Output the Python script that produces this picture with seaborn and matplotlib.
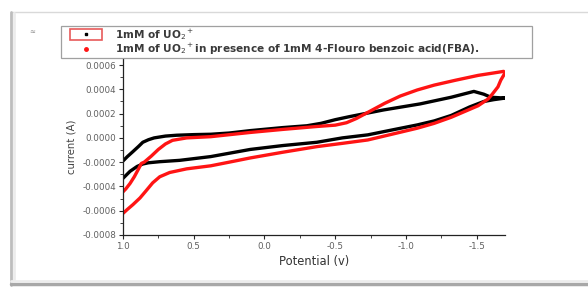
import matplotlib
matplotlib.use("Agg")
import matplotlib.pyplot as plt
import matplotlib.patches as mpatches
from matplotlib.lines import Line2D
from matplotlib.ticker import MultipleLocator
import seaborn as sns
import pandas as pd

# Cyclic voltammograms: potential (V) and current (x1e-4 A), forward sweep then reverse sweep
black_v = [1.0, 0.97, 0.93, 0.89, 0.86, 0.82, 0.78, 0.70, 0.62, 0.5, 0.38, 0.25, 0.1, -0.13,
           -0.3, -0.4, -0.5, -0.6, -0.84, -1.1, -1.32, -1.48, -1.55, -1.6, -1.7,
           -1.62, -1.55, -1.45, -1.32, -1.2, -1.08, -0.9, -0.73, -0.55, -0.37, -0.13, 0.1,
           0.38, 0.6, 0.74, 0.82, 0.86, 0.9, 0.95, 1.0]
black_i = [-1.9, -1.55, -1.13, -0.7, -0.36, -0.15, 0.0, 0.15, 0.22, 0.27, 0.30, 0.4, 0.6, 0.85,
           1.0, 1.2, 1.5, 1.75, 2.3, 2.8, 3.35, 3.83, 3.6, 3.35, 3.28,
           3.15, 3.0, 2.55, 1.85, 1.4, 1.07, 0.65, 0.25, 0.0, -0.36, -0.63, -0.95,
           -1.54, -1.85, -1.96, -2.05, -2.15, -2.35, -2.75, -3.33]

red_v = [1.0, 0.98, 0.95, 0.92, 0.89, 0.87, 0.85, 0.8, 0.75, 0.7, 0.65, 0.55, 0.38, 0.1, -0.13,
         -0.37, -0.5, -0.58, -0.65, -0.73, -0.85, -0.96, -1.08, -1.2, -1.35, -1.51, -1.62,
         -1.69, -1.7, -1.67, -1.65, -1.61, -1.58, -1.51, -1.42, -1.32, -1.2, -1.08, -0.9,
         -0.73, -0.55, -0.37, -0.13, 0.1, 0.25, 0.38, 0.55, 0.67, 0.74, 0.79, 0.84, 0.88,
         0.93, 0.97, 1.0]
red_i = [-4.44, -4.2, -3.75, -3.2, -2.55, -2.1, -2.0, -1.5, -0.95, -0.5, -0.2, 0.0, 0.1, 0.45,
         0.7, 0.94, 1.05, 1.25, 1.6, 2.1, 2.85, 3.45, 3.95, 4.35, 4.75, 5.15, 5.35,
         5.48, 5.35, 4.75, 4.2, 3.6, 3.2, 2.65, 2.2, 1.7, 1.2, 0.8, 0.3,
         -0.17, -0.45, -0.72, -1.18, -1.65, -2.0, -2.3, -2.55, -2.85, -3.2, -3.7, -4.4, -4.95,
         -5.5, -5.9, -6.22]

series_labels = ["1mM of UO$_2$$^+$",
                 "1mM of UO$_2$$^+$in presence of 1mM 4-Flouro benzoic acid(FBA)."]
series_colors = ["black", "#ff1414"]
x_ticks = [1.0, 0.5, 0.0, -0.5, -1.0, -1.5]
y_ticks = [-0.0008, -0.0006, -0.0004, -0.0002, 0.0, 0.0002, 0.0004, 0.0006]

df = pd.concat([
    pd.DataFrame({"v": black_v, "i": [c * 1e-4 for c in black_i], "s": series_labels[0]}),
    pd.DataFrame({"v": red_v, "i": [c * 1e-4 for c in red_i], "s": series_labels[1]}),
], ignore_index=True)

sns.set_style("white")
plt.rcParams["font.family"] = ["DejaVu Sans"]
plt.rcParams["axes.unicode_minus"] = False

W, H = 588, 287
fig = plt.figure(figsize=(W / 100, H / 100), dpi=100)

# card frame (top, left, bottom edges)
def fig_line(x0, y0, x1, y1, color, lw):
    fig.add_artist(Line2D([x0 / W, x1 / W], [1 - y0 / H, 1 - y1 / H],
                          transform=fig.transFigure, color=color, linewidth=lw))
fig_line(11, 12, W, 12, "#d9d9d9", 1.0)
fig_line(11, 12, 11, 285, "#bdbdbd", 2.0)
fig_line(14, 13, 14, 283, "#ececec", 2.0)
fig_line(11, 284, W, 284, "#a8a8a8", 2.5)
fig_line(11, 281, W, 281, "#ececec", 2.0)

ax = fig.add_axes([123 / W, 1 - 235 / H, (505 - 123) / W, (235 - 59) / H])

sns.lineplot(data=df, x="v", y="i", hue="s", sort=False, estimator=None,
             palette=dict(zip(series_labels, series_colors)),
             linewidth=2.4, ax=ax, legend=False)

ax.set_xlim(1.0, -1.7)
ax.set_ylim(-0.0008, 0.00065)
ax.set_xticks(x_ticks)
ax.set_xticklabels([f"{t:.1f}" for t in x_ticks])
ax.set_yticks(y_ticks)
ax.set_yticklabels([f"{t:.4f}" for t in y_ticks])
ax.xaxis.set_minor_locator(MultipleLocator(0.25))
ax.yaxis.set_minor_locator(MultipleLocator(0.0001))
ax.tick_params(axis="both", which="major", direction="out", length=3, width=0.8,
               labelsize=6.3, labelcolor="#606060", left=True, bottom=True, pad=2)
ax.tick_params(axis="both", which="minor", direction="out", length=2, width=0.6,
               left=True, bottom=True)
for s in ["top", "right"]:
    ax.spines[s].set_visible(False)
for s in ["left", "bottom"]:
    ax.spines[s].set_color("#222222")
    ax.spines[s].set_linewidth(0.9)
ax.set_xlabel("Potential (v)", fontsize=8.3, color="#333333", labelpad=3)
ax.set_ylabel("current (A)", fontsize=7.3, color="#444444", labelpad=4)

handles = [Line2D([], [], linestyle="none", marker="s", markersize=2, color=series_colors[0]),
           Line2D([], [], linestyle="none", marker="o", markersize=2.5, color=series_colors[1])]
leg = fig.legend(handles, series_labels, loc="lower left",
                 bbox_to_anchor=(61 / W, 1 - 58 / H, (532 - 61) / W, 27 / H), mode="expand",
                 prop={"size": 7.6, "weight": "bold"}, frameon=True, fancybox=False,
                 edgecolor="#888888", borderpad=0.1, labelspacing=0.0, handlelength=4.6,
                 handletextpad=0.4, borderaxespad=0.0, numpoints=1)
leg.get_frame().set_linewidth(0.9)
for t in leg.get_texts():
    t.set_color("#3a3a3a")

# red selection box around the first legend handle
fig.canvas.draw()
bb = leg.legend_handles[0].get_window_extent(fig.canvas.get_renderer())
cx, cy = (bb.x0 + bb.x1) / 2, (bb.y0 + bb.y1) / 2
sel = mpatches.Rectangle(((cx - 16) / W, (cy - 5.5) / H), 32 / W, 11 / H,
                         transform=fig.transFigure, fill=False,
                         edgecolor="#e85a5a", linewidth=1.2, zorder=20)
fig.add_artist(sel)
fig.text(29 / W, 1 - 34 / H, "\u2248", fontsize=5, color="#888888")

fig.savefig("out.png", dpi=100)
